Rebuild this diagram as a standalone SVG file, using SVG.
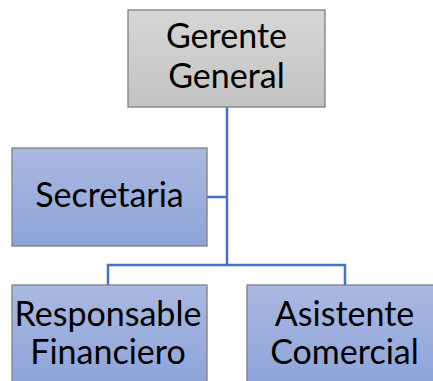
<svg xmlns="http://www.w3.org/2000/svg" width="433" height="381" viewBox="0 0 433 381">
<defs>
<linearGradient id="gGray" x1="0" y1="0" x2="0" y2="1"><stop offset="0" stop-color="#d6d6d6"/><stop offset="1" stop-color="#c3c3c3"/></linearGradient>
<linearGradient id="gBlue" x1="0" y1="0" x2="0" y2="1"><stop offset="0" stop-color="#aab9e1"/><stop offset="1" stop-color="#8ea4d9"/></linearGradient>
</defs>
<style>
.box{stroke:#7f7f7f;stroke-width:1.3}
.t{font-family:"Lato","Liberation Sans",sans-serif;font-size:34px;fill:#000;text-anchor:middle}
.c{stroke:#4472c4;stroke-width:2.5;fill:none}
</style>
<g id="connectors">
<path class="c" d="M227 107V266"/>
<path class="c" d="M207 197H227"/>
<path class="c" d="M108 285V265H345V285"/>
</g>
<g id="gerente"><rect class="box" x="128" y="10" width="197" height="97" fill="url(#gGray)"/><text class="t" x="226.5" y="48">Gerente</text><text class="t" x="226.5" y="88">General</text></g>
<g id="secretaria"><rect class="box" x="12" y="148" width="195" height="98" fill="url(#gBlue)"/><text class="t" x="109.5" y="207">Secretaria</text></g>
<g id="responsable"><rect class="box" x="12" y="285" width="195" height="98" fill="url(#gBlue)"/><text class="t" x="108" y="326">Responsable</text><text class="t" x="108" y="364">Financiero</text></g>
<g id="asistente"><rect class="box" x="247" y="285" width="195" height="98" fill="url(#gBlue)"/><text class="t" x="344.5" y="326">Asistente</text><text class="t" x="344.5" y="364">Comercial</text></g>
</svg>
